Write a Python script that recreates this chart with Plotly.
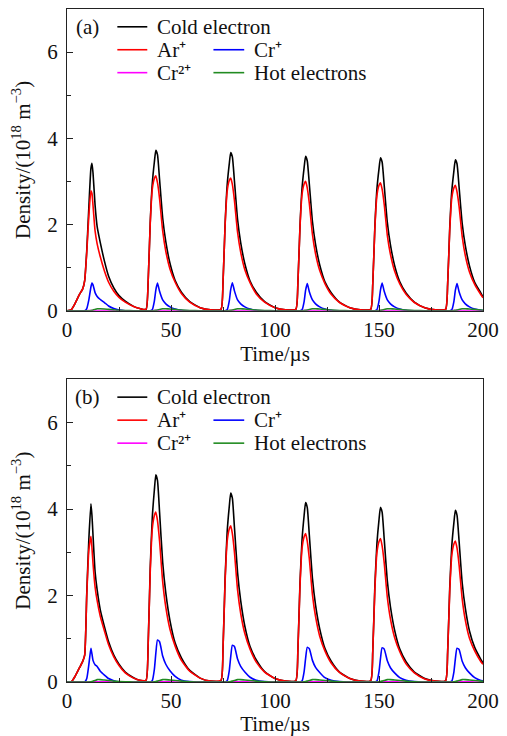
import plotly.graph_objects as go

# time axis (us), shared by both panels
time_us = [0, 2, 4, 6, 7.5, 8.5, 9.5, 10.5, 11.5, 12, 12.5, 13.5, 14.5, 16, 18, 20, 22.5, 25, 28, 32, 35,
           38, 39, 40, 41, 42, 42.7, 43.5, 44.5, 46, 47.5, 49.5, 52, 55, 59, 64, 69,
           74, 75, 76, 77, 78, 78.7, 79.5, 80.5, 82, 83.5, 85.5, 88, 91, 95, 100, 105,
           110, 111, 112, 113, 114, 114.7, 115.5, 116.5, 118, 119.5, 121.5, 124, 127, 131, 136, 141,
           146, 147, 148, 149, 150, 150.7, 151.5, 152.5, 154, 155.5, 157.5, 160, 163, 167, 172, 177,
           182, 183, 184, 185, 186, 186.7, 187.5, 188.5, 190, 191.5, 193.5, 196, 199, 200]

# ---- panel (a) ----
cold_a = [0, 0.02, 0.18, 0.38, 0.5, 0.7, 1.4, 2.4, 3.3, 3.42, 3.2, 2.45, 1.95, 1.58, 1.15, 0.8, 0.53, 0.35, 0.22, 0.1, 0.05,
          0.03, 0.65, 2.03, 2.95, 3.45, 3.72, 3.62, 3.05, 2.15, 1.6, 1.1, 0.7, 0.43, 0.21, 0.07, 0.02,
          0.03, 0.64, 2.00, 2.91, 3.40, 3.67, 3.57, 3.01, 2.12, 1.58, 1.09, 0.69, 0.43, 0.21, 0.07, 0.02,
          0.03, 0.63, 1.95, 2.84, 3.32, 3.58, 3.48, 2.94, 2.07, 1.54, 1.06, 0.67, 0.42, 0.20, 0.07, 0.02,
          0.03, 0.62, 1.94, 2.82, 3.29, 3.55, 3.45, 2.91, 2.05, 1.53, 1.05, 0.67, 0.41, 0.20, 0.07, 0.02,
          0.03, 0.61, 1.91, 2.78, 3.24, 3.50, 3.41, 2.87, 2.02, 1.51, 1.04, 0.66, 0.41, 0.32]
ar_a = [0, 0.02, 0.18, 0.38, 0.5, 0.7, 1.35, 2.2, 2.78, 2.72, 2.45, 1.85, 1.55, 1.25, 0.92, 0.66, 0.45, 0.31, 0.2, 0.1, 0.05,
        0.03, 0.66, 2.00, 2.82, 3.07, 3.13, 2.97, 2.60, 1.85, 1.38, 0.97, 0.66, 0.40, 0.20, 0.07, 0.02,
        0.03, 0.65, 1.97, 2.77, 3.02, 3.08, 2.93, 2.56, 1.82, 1.36, 0.95, 0.65, 0.39, 0.20, 0.07, 0.02,
        0.03, 0.63, 1.92, 2.70, 2.94, 3.00, 2.85, 2.49, 1.77, 1.32, 0.93, 0.63, 0.38, 0.19, 0.07, 0.02,
        0.03, 0.62, 1.90, 2.67, 2.91, 2.97, 2.82, 2.47, 1.75, 1.31, 0.92, 0.62, 0.38, 0.19, 0.07, 0.02,
        0.03, 0.61, 1.86, 2.62, 2.85, 2.91, 2.76, 2.42, 1.72, 1.28, 0.90, 0.61, 0.37, 0.30]
cr_a = [0, 0, 0, 0, 0, 0, 0.05, 0.25, 0.55, 0.64, 0.6, 0.42, 0.33, 0.26, 0.19, 0.11, 0.05, 0.015, 0, 0, 0,
        0, 0, 0, 0.02, 0.22, 0.48, 0.64, 0.45, 0.25, 0.16, 0.09, 0.04, 0.01, 0, 0, 0,
        0, 0, 0, 0.02, 0.22, 0.49, 0.65, 0.46, 0.25, 0.16, 0.09, 0.04, 0.01, 0, 0, 0,
        0, 0, 0, 0.02, 0.21, 0.47, 0.63, 0.44, 0.25, 0.16, 0.09, 0.04, 0.01, 0, 0, 0,
        0, 0, 0, 0.02, 0.22, 0.48, 0.64, 0.45, 0.25, 0.16, 0.09, 0.04, 0.01, 0, 0, 0,
        0, 0, 0, 0.02, 0.21, 0.47, 0.63, 0.44, 0.25, 0.16, 0.09, 0.04, 0.01, 0.005]
cr2_a = [0, 0, 0, 0, 0, 0, 0, 0.002, 0.005, 0.006, 0.007, 0.007, 0.006, 0.005, 0.003, 0.002, 0.001, 0, 0, 0, 0,
         0, 0, 0, 0, 0.003, 0.005, 0.007, 0.007, 0.006, 0.004, 0.002, 0.001, 0, 0, 0, 0,
         0, 0, 0, 0, 0.003, 0.005, 0.007, 0.007, 0.006, 0.004, 0.002, 0.001, 0, 0, 0, 0,
         0, 0, 0, 0, 0.003, 0.005, 0.007, 0.007, 0.006, 0.004, 0.002, 0.001, 0, 0, 0, 0,
         0, 0, 0, 0, 0.003, 0.005, 0.007, 0.007, 0.006, 0.004, 0.002, 0.001, 0, 0, 0, 0,
         0, 0, 0, 0, 0.003, 0.005, 0.007, 0.007, 0.006, 0.004, 0.002, 0.001, 0, 0]
hot_a = [0, 0, 0, 0, 0, 0, 0, 0, 0.005, 0.01, 0.015, 0.03, 0.045, 0.045, 0.04, 0.03, 0.02, 0.01, 0.005, 0, 0,
         0, 0, 0, 0, 0.005, 0.01, 0.015, 0.03, 0.045, 0.045, 0.04, 0.03, 0.015, 0.005, 0, 0,
         0, 0, 0, 0, 0.005, 0.01, 0.015, 0.03, 0.045, 0.045, 0.04, 0.03, 0.015, 0.005, 0, 0,
         0, 0, 0, 0, 0.005, 0.01, 0.015, 0.03, 0.045, 0.045, 0.04, 0.03, 0.015, 0.005, 0, 0,
         0, 0, 0, 0, 0.005, 0.01, 0.015, 0.03, 0.045, 0.045, 0.04, 0.03, 0.015, 0.005, 0, 0,
         0, 0, 0, 0, 0.005, 0.01, 0.015, 0.03, 0.045, 0.045, 0.04, 0.03, 0.015, 0.01]

# ---- panel (b) ----
cold_b = [0, 0, 0.14, 0.33, 0.47, 0.62, 2.05, 3.3, 4.12, 3.85, 3.4, 2.55, 2.13, 1.67, 1.28, 0.93, 0.62, 0.41, 0.23, 0.1, 0.04,
          0.04, 0.84, 2.62, 3.80, 4.44, 4.79, 4.66, 3.93, 2.77, 2.06, 1.42, 0.90, 0.56, 0.27, 0.09, 0.02,
          0.03, 0.76, 2.39, 3.47, 4.05, 4.37, 4.25, 3.58, 2.53, 1.88, 1.29, 0.82, 0.51, 0.24, 0.08, 0.02,
          0.03, 0.73, 2.27, 3.29, 3.85, 4.15, 4.04, 3.40, 2.40, 1.78, 1.23, 0.78, 0.48, 0.23, 0.08, 0.02,
          0.03, 0.71, 2.21, 3.20, 3.75, 4.04, 3.93, 3.31, 2.34, 1.74, 1.20, 0.76, 0.47, 0.23, 0.08, 0.02,
          0.03, 0.69, 2.17, 3.15, 3.68, 3.97, 3.86, 3.26, 2.29, 1.71, 1.18, 0.80, 0.52, 0.44]
ar_b = [0, 0, 0.14, 0.33, 0.47, 0.62, 2.0, 3.05, 3.37, 3.1, 2.75, 2.2, 1.88, 1.52, 1.18, 0.86, 0.58, 0.38, 0.21, 0.09, 0.04,
        0.04, 0.83, 2.52, 3.54, 3.85, 3.93, 3.73, 3.26, 2.32, 1.73, 1.22, 0.83, 0.50, 0.25, 0.09, 0.02,
        0.04, 0.76, 2.31, 3.25, 3.54, 3.61, 3.43, 3.00, 2.13, 1.59, 1.12, 0.76, 0.46, 0.23, 0.08, 0.02,
        0.03, 0.72, 2.20, 3.09, 3.36, 3.43, 3.26, 2.85, 2.02, 1.51, 1.06, 0.72, 0.44, 0.22, 0.08, 0.02,
        0.03, 0.70, 2.12, 2.99, 3.25, 3.32, 3.15, 2.76, 1.96, 1.46, 1.03, 0.70, 0.42, 0.21, 0.07, 0.02,
        0.03, 0.68, 2.09, 2.93, 3.19, 3.26, 3.10, 2.71, 1.92, 1.43, 1.01, 0.72, 0.47, 0.41]
cr_b = [0, 0, 0, 0, 0, 0, 0.08, 0.4, 0.78, 0.65, 0.5, 0.4, 0.36, 0.25, 0.16, 0.08, 0.03, 0.005, 0, 0, 0,
        0, 0, 0, 0.03, 0.29, 0.66, 0.97, 0.93, 0.60, 0.41, 0.26, 0.13, 0.04, 0.01, 0, 0,
        0, 0, 0, 0.03, 0.26, 0.58, 0.85, 0.82, 0.53, 0.36, 0.23, 0.11, 0.04, 0.01, 0, 0,
        0, 0, 0, 0.02, 0.24, 0.54, 0.80, 0.77, 0.50, 0.34, 0.22, 0.10, 0.04, 0.01, 0, 0,
        0, 0, 0, 0.02, 0.24, 0.54, 0.79, 0.76, 0.49, 0.33, 0.21, 0.10, 0.04, 0.01, 0, 0,
        0, 0, 0, 0.02, 0.23, 0.53, 0.78, 0.75, 0.48, 0.33, 0.21, 0.10, 0.035, 0.03]
cr2_b = [0, 0, 0, 0, 0, 0, 0, 0.002, 0.006, 0.007, 0.008, 0.008, 0.007, 0.006, 0.004, 0.002, 0.001, 0, 0, 0, 0,
         0, 0, 0, 0, 0.003, 0.006, 0.008, 0.008, 0.007, 0.005, 0.003, 0.001, 0, 0, 0, 0,
         0, 0, 0, 0, 0.003, 0.006, 0.008, 0.008, 0.007, 0.005, 0.003, 0.001, 0, 0, 0, 0,
         0, 0, 0, 0, 0.003, 0.006, 0.008, 0.008, 0.007, 0.005, 0.003, 0.001, 0, 0, 0, 0,
         0, 0, 0, 0, 0.003, 0.006, 0.008, 0.008, 0.007, 0.005, 0.003, 0.001, 0, 0, 0, 0,
         0, 0, 0, 0, 0.003, 0.006, 0.008, 0.008, 0.007, 0.005, 0.003, 0.001, 0, 0]
hot_b = [0, 0, 0, 0, 0, 0, 0, 0, 0.005, 0.01, 0.02, 0.035, 0.055, 0.055, 0.045, 0.035, 0.02, 0.01, 0.005, 0, 0,
         0, 0, 0, 0, 0.005, 0.01, 0.02, 0.035, 0.055, 0.055, 0.045, 0.035, 0.02, 0.005, 0, 0,
         0, 0, 0, 0, 0.005, 0.01, 0.02, 0.035, 0.055, 0.055, 0.045, 0.035, 0.02, 0.005, 0, 0,
         0, 0, 0, 0, 0.005, 0.01, 0.02, 0.035, 0.055, 0.055, 0.045, 0.035, 0.02, 0.005, 0, 0,
         0, 0, 0, 0, 0.005, 0.01, 0.02, 0.035, 0.055, 0.055, 0.045, 0.035, 0.02, 0.005, 0, 0,
         0, 0, 0, 0, 0.005, 0.01, 0.02, 0.035, 0.055, 0.055, 0.045, 0.035, 0.02, 0.015]

names = ['Cold electron', 'Ar⁺', 'Cr⁺', 'Cr²⁺', 'Hot electrons']
colors = ['#000000', '#ff0000', '#0000ff', '#ff00ff', '#228b22']
FONT = 'Liberation Serif'
FS = 21

fig = go.Figure()
panels = [('x', 'y', [cold_a, ar_a, cr_a, cr2_a, hot_a]),
          ('x2', 'y2', [cold_b, ar_b, cr_b, cr2_b, hot_b])]
for xa, ya, series in panels:
    for name, col, vals in zip(names, colors, series):
        fig.add_trace(go.Scatter(x=time_us, y=vals, mode='lines', name=name, xaxis=xa, yaxis=ya,
                                 line=dict(color=col, width=1.6, shape='spline', smoothing=0.5),
                                 showlegend=False))

axis_common = dict(showline=True, linecolor='#222', linewidth=1.3, mirror=True, ticks='inside',
                   ticklen=6, tickwidth=1, tickcolor='#222', showgrid=False, zeroline=False,
                   automargin=False, tickfont=dict(family=FONT, size=FS, color='#111'))
xcommon = dict(axis_common, range=[0, 200], tickvals=[0, 50, 100, 150, 200],
               minor=dict(ticks='inside', ticklen=4, dtick=25, tickcolor='#222'),
               title=dict(text='Time/µs', font=dict(family=FONT, size=FS, color='#111'), standoff=1))
ycommon = dict(axis_common, range=[0, 7], tickvals=[0, 2, 4, 6], ticklabelstandoff=4,
               minor=dict(ticks='inside', ticklen=4, dtick=1, tickcolor='#222'),
               title=dict(text='Density/(10<sup>18</sup> m<sup>−3</sup>)',
                          font=dict(family=FONT, size=FS, color='#111'), standoff=12))

# the page body adds an 8 px offset, so the figure is sized to the visible area
fig.update_layout(
    width=499, height=728,
    margin=dict(l=59, r=24, t=1, b=54),
    paper_bgcolor='white', plot_bgcolor='white',
    xaxis=dict(xcommon, domain=[0, 1], anchor='y'),
    yaxis=dict(ycommon, domain=[0.5517, 1], anchor='x'),
    xaxis2=dict(xcommon, domain=[0, 1], anchor='y2'),
    yaxis2=dict(ycommon, domain=[0, 0.4498], anchor='x2'),
)

# in-plot legend and panel labels
rows = [(0.941, [(0, names[0], colors[0])]),
        (0.865, [(0, names[1], colors[1]), (1, names[2], colors[2])]),
        (0.789, [(0, names[3], colors[3]), (1, names[4], colors[4])])]
col_line = [(0.121, 0.193), (0.352, 0.426)]
col_text = [0.212, 0.444]
for xr, yr, lab in [('x domain', 'y domain', '(a)'), ('x2 domain', 'y2 domain', '(b)')]:
    fig.add_annotation(x=0.049, y=0.941, xref=xr, yref=yr, text=lab, showarrow=False,
                       xanchor='center', yanchor='middle',
                       font=dict(family=FONT, size=FS, color='#111'))
    for yy, items in rows:
        for c, txt, col in items:
            fig.add_shape(type='line', xref=xr, yref=yr, x0=col_line[c][0], x1=col_line[c][1],
                          y0=yy, y1=yy, line=dict(color=col, width=1.6))
            fig.add_annotation(x=col_text[c], y=yy, xref=xr, yref=yr, text=txt, showarrow=False,
                               xanchor='left', yanchor='middle',
                               font=dict(family=FONT, size=FS, color='#111'))

fig.write_html("out.html")
